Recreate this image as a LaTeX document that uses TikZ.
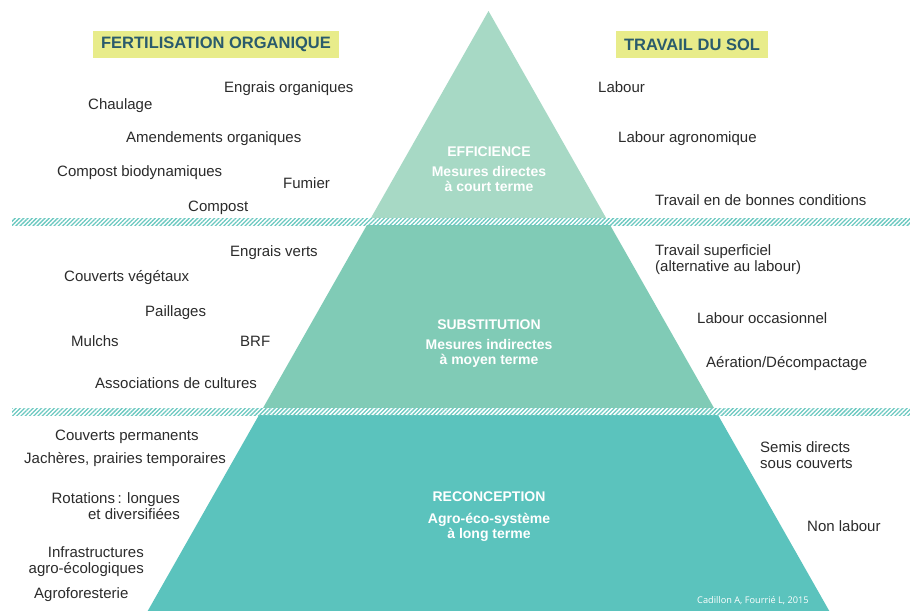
\documentclass[tikz,border=0pt]{standalone}
\usepackage{fontspec}
\setmainfont{Liberation Sans}
\newfontfamily\creditfont{Open Sans}
\usetikzlibrary{patterns.meta}
\definecolor{effcol}{HTML}{A7D9C5}
\definecolor{subcol}{HTML}{80CBB6}
\definecolor{reccol}{HTML}{5BC3BD}
\definecolor{hatchcol}{HTML}{6CC9C1}
\definecolor{titlebg}{HTML}{E8EC8A}
\definecolor{titlefg}{HTML}{2A5B6C}
\definecolor{txtcol}{HTML}{2B2B2B}
\tikzset{
	heading/.style={fill=titlebg, text=titlefg, font=\fontsize{16.5}{20}\selectfont\bfseries,
			inner xsep=8.5pt, inner ysep=0pt, minimum height=27pt},
	item/.style={text=txtcol, font=\fontsize{15}{16}\selectfont, inner sep=0pt,
			text height=10.7pt, text depth=0pt},
	items/.style={text=txtcol, font=\fontsize{15}{16}\selectfont, inner sep=0pt, align=#1},
	level/.style={text=white, font=\fontsize{14}{15}\selectfont\bfseries, align=center, inner sep=0pt},
	band/.style={pattern={Lines[angle=45,distance=3pt,line width=1.3pt]}, pattern color=hatchcol}
}

\begin{document}
\begin{tikzpicture}[x=1pt, y=-1pt]
	\useasboundingbox (0,0) rectangle (910,611);
	\fill[white] (0,0) rectangle (910,611);

	% pyramide
	\begin{scope}
		\clip (488.5,11) -- (829.3,611) -- (147.7,611) -- cycle;
		\fill[effcol] (0,0) rectangle (910,218);
		\fill[subcol] (0,218) rectangle (910,408);
		\fill[reccol] (0,408) rectangle (910,611);
	\end{scope}

	\foreach \y in {218,408} {
		\fill[white] (12,\y) rectangle (910,\y+7);
		\fill[band] (12,\y) rectangle (910,\y+7);
	}

	\node[heading] (fert) at (216,44.5) {FERTILISATION ORGANIQUE};
	\node[heading] (trav) at (692,44.5) {TRAVAIL DU SOL};

	\node[level] (eff) at (489,169) {EFFICIENCE\\[5pt]Mesures directes\\à court terme};
	\node[level] (sub) at (489,343.5) {SUBSTITUTION\\[5pt]Mesures indirectes\\à moyen terme};
	\node[level] (rec) at (489,517) {RECONCEPTION\\[7pt]Agro-éco-système\\à long terme};

	% fertilisation organique
	\node[item, anchor=west] (engorg) at (224,87) {Engrais organiques};
	\node[item, anchor=west] (chaul) at (88,104) {Chaulage};
	\node[item, anchor=west] (amend) at (126,137) {Amendements organiques};
	\node[item, anchor=west] (compbio) at (57,171) {Compost biodynamiques};
	\node[item, anchor=west] (fumier) at (283,183) {Fumier};
	\node[item, anchor=west] (compost) at (188,206) {Compost};
	\node[item, anchor=west] (engvert) at (230,251) {Engrais verts};
	\node[item, anchor=west] (couvveg) at (64,276) {Couverts végétaux};
	\node[item, anchor=west] (paill) at (145,311) {Paillages};
	\node[item, anchor=west] (mulch) at (71,341) {Mulchs};
	\node[item, anchor=west] (brf) at (240,341) {BRF};
	\node[item, anchor=west] (assoc) at (95,383) {Associations de cultures};
	\node[item, anchor=west] (couvperm) at (55,435) {Couverts permanents};
	\node[item, anchor=west] (jach) at (24,458) {Jachères, prairies temporaires};
	\node[items=right, anchor=east] (rot) at (180,506) {Rotations\,: longues\\et diversifiées};
	\node[items=right, anchor=east] (infra) at (144,562) {Infrastructures\\agro-écologiques};
	\node[item, anchor=west] (agrof) at (34,593) {Agroforesterie};

	% travail du sol
	\node[item, anchor=west] (lab) at (598,87) {Labour};
	\node[item, anchor=west] (labagro) at (618,137) {Labour agronomique};
	\node[item, anchor=west] (bonnes) at (655,200) {Travail en de bonnes conditions};
	\node[items=left, anchor=west] (superf) at (655,259.5) {Travail superficiel\\(alternative au labour)};
	\node[item, anchor=west] (labocc) at (697,318) {Labour occasionnel};
	\node[item, anchor=west] (aera) at (706,362) {Aération/Décompactage};
	\node[items=left, anchor=west] (semis) at (760,455.5) {Semis directs\\sous couverts};
	\node[item, anchor=west] (nonlab) at (807,526) {Non labour};

	\node[text=white, font=\creditfont\fontsize{9.2}{11}\selectfont, inner sep=0pt, anchor=west]
		(credit) at (697,601) {Cadillon A, Fourrié L, 2015};
\end{tikzpicture}
\end{document}
